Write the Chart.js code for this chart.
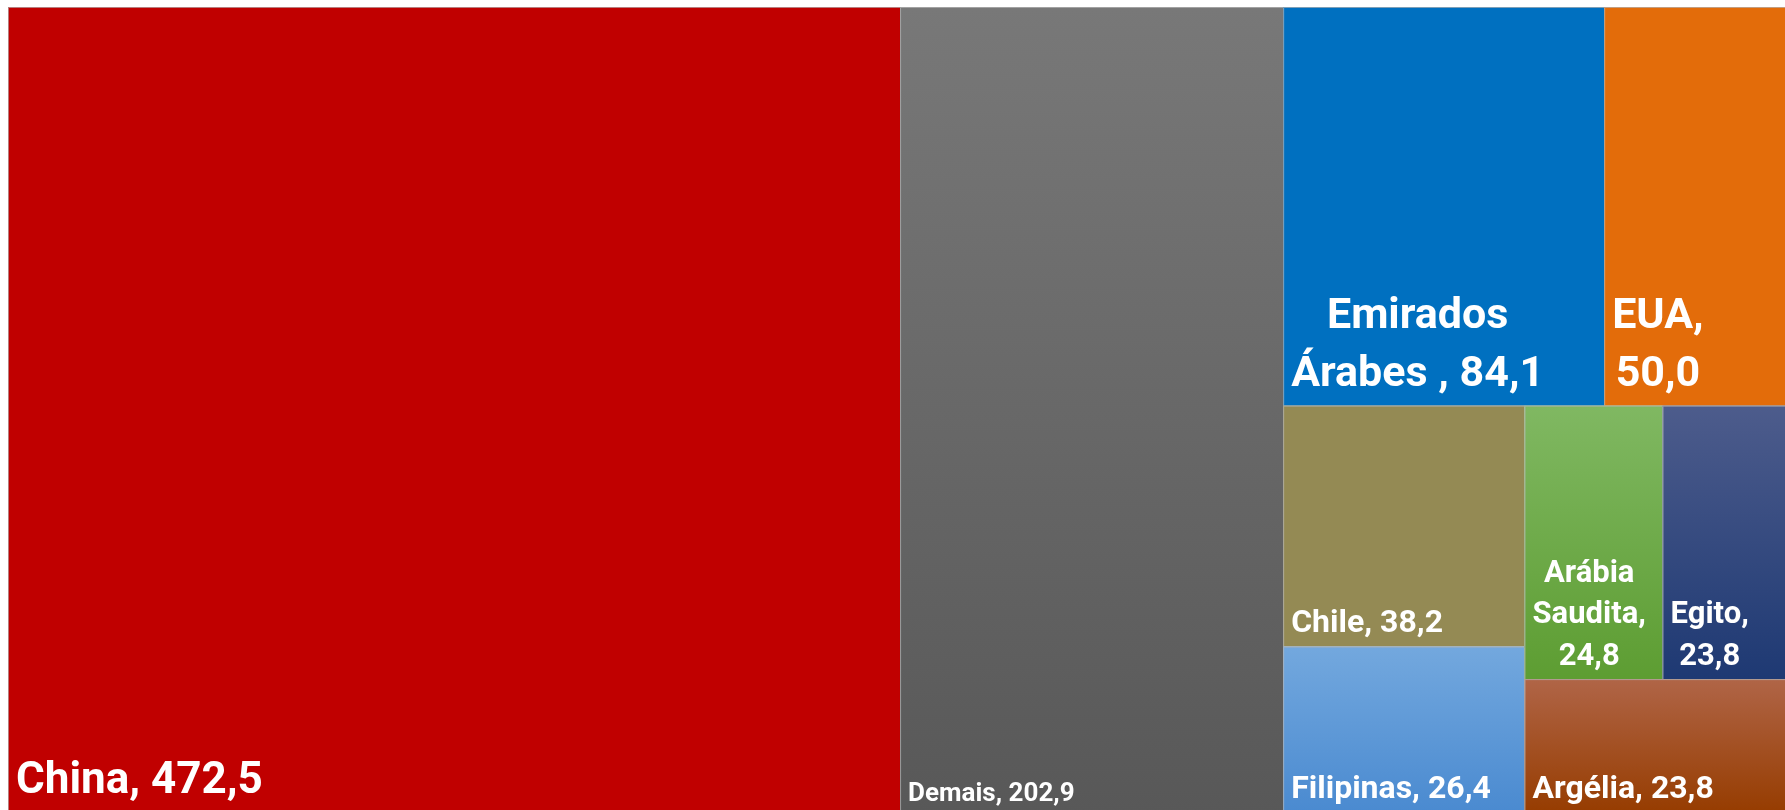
<!DOCTYPE html>
<html>
<head>
<meta charset="utf-8">
<script src="https://cdn.jsdelivr.net/npm/chart.js@4.4.1/dist/chart.umd.min.js"></script>
<style>
html, body { margin: 0; padding: 0; background: #fff; overflow: hidden; }
#wrap { position: absolute; left: 8px; top: 7px; width: 1787px; height: 806px; }
</style>
</head>
<body>
<div id="wrap"><canvas id="treemapChart" width="1787" height="806"></canvas></div>
<script>
var categories = ['China', 'Demais', 'Emirados Árabes ', 'EUA', 'Chile', 'Filipinas', 'Arábia Saudita', 'Egito', 'Argélia'];
var values = [472.5, 202.9, 84.1, 50.0, 38.2, 26.4, 24.8, 23.8, 23.8];

// how the cells are grouped: 'h' = side by side, 'v' = stacked
var layoutTree = { dir: 'h', items: [0, 1, { dir: 'v', items: [
    { dir: 'h', items: [2, 3] },
    { dir: 'h', items: [
        { dir: 'v', items: [4, 5] },
        { dir: 'v', items: [{ dir: 'h', items: [6, 7] }, 8] }
    ] }
] }] };

var topColors = ['#C00000', '#787878', '#0070C0', '#E36C0A', '#948A54', '#73A8DE', '#80B862', '#4D5C8C', '#B06547'];
var bottomColors = ['#C00000', '#585858', '#0070C0', '#E36C0A', '#948A54', '#4A8AD0', '#5D9D32', '#1E3973', '#963C00'];
var fontSizes = [44, 26, 43, 43, 32, 32, 31, 31, 32];

function formatValue(v) {
    return v.toFixed(1).replace('.', ',');
}

function sumOf(node) {
    if (typeof node === 'number') return values[node];
    return node.items.reduce(function (s, n) { return s + sumOf(n); }, 0);
}

function layout(node, x0, y0, x1, y1, out) {
    if (typeof node === 'number') {
        out[node] = { x0: x0, y0: y0, x1: x1, y1: y1 };
        return;
    }
    var total = sumOf(node);
    var pos = node.dir === 'h' ? x0 : y0;
    node.items.forEach(function (child) {
        var share = sumOf(child) / total;
        if (node.dir === 'h') {
            var w = (x1 - x0) * share;
            layout(child, pos, y0, pos + w, y1, out);
            pos += w;
        } else {
            var h = (y1 - y0) * share;
            layout(child, x0, pos, x1, pos + h, out);
            pos += h;
        }
    });
}

function wrapText(ctx, text, maxWidth) {
    var words = text.split(' ');
    var lines = [];
    var line = '';
    words.forEach(function (w) {
        if (w === '') return;
        var test = line ? line + ' ' + w : w;
        if (line && ctx.measureText(test).width > maxWidth) {
            lines.push(line);
            line = w;
        } else {
            line = test;
        }
    });
    if (line) lines.push(line);
    return lines;
}

var treemapPlugin = {
    id: 'treemapCells',
    afterDatasetsDraw: function (chart) {
        var ctx = chart.ctx;
        var xs = chart.scales.x, ys = chart.scales.y;
        var cells = [];
        layout(layoutTree, 0, 0, 1, 1, cells);

        ctx.save();
        cells.forEach(function (c, i) {
            var left = xs.getPixelForValue(c.x0), right = xs.getPixelForValue(c.x1);
            var top = ys.getPixelForValue(c.y0), bottom = ys.getPixelForValue(c.y1);
            var grad = ctx.createLinearGradient(0, top, 0, bottom);
            grad.addColorStop(0, topColors[i]);
            grad.addColorStop(1, bottomColors[i]);
            ctx.fillStyle = grad;
            ctx.fillRect(left, top, right - left, bottom - top);
            ctx.strokeStyle = 'rgba(180,180,180,0.7)';
            ctx.lineWidth = 1;
            ctx.strokeRect(left + 0.5, top + 0.5, right - left, bottom - top);
        });

        cells.forEach(function (c, i) {
            var left = xs.getPixelForValue(c.x0), right = xs.getPixelForValue(c.x1);
            var bottom = ys.getPixelForValue(c.y1);
            var fs = fontSizes[i];
            ctx.font = 'bold ' + fs + 'px Roboto';
            ctx.fillStyle = '#FFFFFF';
            ctx.textBaseline = 'alphabetic';
            ctx.textAlign = 'center';
            var label = categories[i] + ', ' + formatValue(values[i]);
            var lines = wrapText(ctx, label, right - left - 16);
            var blockW = Math.max.apply(null, lines.map(function (l) { return ctx.measureText(l).width; }));
            var cx = left + 8 + blockW / 2;
            var lh = fs * 1.34;
            var base = bottom - fs * 0.46;
            lines.forEach(function (l, k) {
                ctx.fillText(l, cx, base - (lines.length - 1 - k) * lh);
            });
        });
        ctx.restore();
    }
};

var ctxTm = document.getElementById('treemapChart').getContext('2d');
var treemapChart = new Chart(ctxTm, {
    type: 'scatter',
    data: {
        datasets: [{
            label: 'Valor',
            data: []
        }]
    },
    options: {
        responsive: false,
        animation: false,
        layout: { padding: 0 },
        plugins: {
            legend: { display: false },
            tooltip: { enabled: false }
        },
        scales: {
            x: { type: 'linear', min: 0, max: 1, display: false },
            y: { type: 'linear', min: 0, max: 1, reverse: true, display: false }
        }
    },
    plugins: [treemapPlugin]
});
</script>
</body>
</html>
